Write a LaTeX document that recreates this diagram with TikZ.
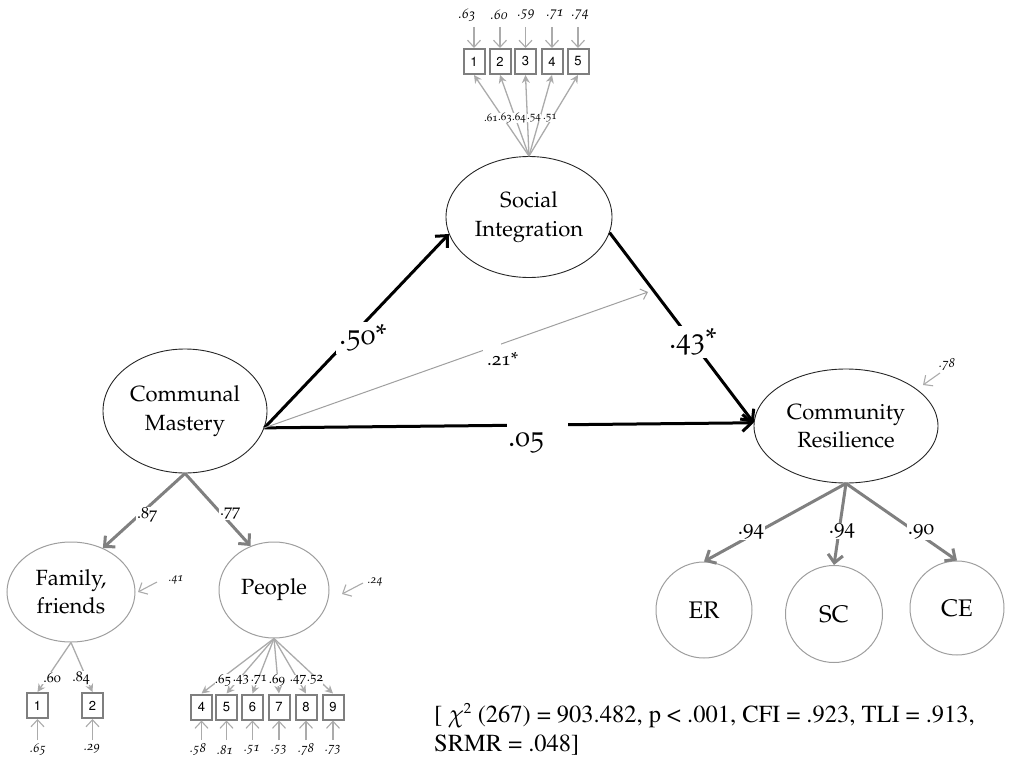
\documentclass[tikz,border=0pt]{standalone}
\usepackage[T1]{fontenc}
\usepackage[osf]{mathpazo}
\usetikzlibrary{arrows.meta,shapes.geometric}

\definecolor{ldg}{HTML}{808080}
\definecolor{lgr}{HTML}{ABABAB}
\definecolor{bxg}{HTML}{7F7F7F}
\definecolor{elg}{HTML}{9E9E9E}

\begin{document}
\begin{tikzpicture}[x=1pt,y=-1pt,
  every node/.style={inner sep=0pt},
  latB/.style={ellipse, draw=black!85, line width=0.9pt, align=center,
    font=\fontsize{22}{28.5}\selectfont},
  latG/.style={ellipse, draw=elg, line width=1pt, align=center,
    font=\fontsize{22}{28.5}\selectfont},
  ind/.style={rectangle, draw=bxg, line width=2pt, fill=white,
    minimum width=21pt, minimum height=25pt,
    font=\fontfamily{phv}\fontsize{13}{15}\selectfont},
  structarr/.style={draw=black, line width=3pt,
    -{Straight Barb[length=9pt,width=17pt]}},
  loadarr/.style={draw=ldg, line width=3pt,
    -{Straight Barb[length=8pt,width=15pt]}},
  indarr/.style={draw=lgr, line width=1.3pt,
    -{Stealth[length=8pt,width=8pt]}},
  errarr/.style={draw=lgr, line width=1.1pt,
    -{Straight Barb[length=7pt,width=13pt]}},
  biglab/.style={fill=white, inner sep=3pt, font=\fontsize{29}{30}\selectfont},
  gaplab/.style={fill=white, inner sep=0pt},
  loadlab/.style={fill=white, inner sep=1pt, font=\fontsize{#1}{#1}\selectfont},
  smalllab/.style={fill=white, inner sep=0.3pt, font=\fontsize{11}{12}\selectfont},
  errlab/.style={font=\itshape\fontsize{#1}{#1}\selectfont},
]
\useasboundingbox (0,0) rectangle (1026,760);

% latent variables
\node[latB, minimum width=166pt, minimum height=121pt] (si) at (529,217) {\rule{0pt}{6pt}Social\\Integration};
\node[latB, minimum width=164pt, minimum height=124pt] (cm) at (185,411) {Communal\\Mastery};
\node[latB, minimum width=184pt, minimum height=114pt] (cr) at (846,426) {Community\\Resilience};
\node[latG, minimum width=128pt, minimum height=100pt] (fam) at (71,592) {Family,\\friends};
\node[latG, minimum width=110pt, minimum height=96pt] (peo) at (274,590) {People};
\node[latG, minimum width=96pt, minimum height=96pt, font=\fontsize{24}{26}\selectfont] (er) at (704,610) {ER};
\node[latG, minimum width=97pt, minimum height=97pt, font=\fontsize{24}{26}\selectfont] (sc) at (834,614) {SC};
\node[latG, minimum width=94pt, minimum height=94pt, font=\fontsize{24}{26}\selectfont] (ce) at (957,608) {CE};

% indicators
\foreach \n/\x in {1/474,2/500,3/525.5,4/552,5/578}
  \node[ind] (s\n) at (\x,61.5) {\n};
\node[ind] (f1) at (37.5,705.5) {1};
\node[ind] (f2) at (92.5,705.5) {2};
\foreach \n/\x in {4/201.5,5/226.5,6/252.5,7/279,8/306,9/333}
  \node[ind] (p\n) at (\x,707) {\n};

% structural paths
\coordinate (t21) at (648,292);
\draw[structarr] (cm.-12) -- (si.192);
\draw[structarr] (si.-11) -- (cr.178);
\draw[structarr] (cm.-12) -- (cr.178);
\draw[draw=gray!75, line width=1pt, -{Straight Barb[length=6pt,width=11pt]}] (cm.-12) -- (t21);

\node[biglab] (l50) at (363,338) {.50*};
\node[biglab] (l43) at (693,342) {.43*};
% these two labels sit below their lines, which are broken just above them
\node[gaplab, minimum width=61pt, minimum height=12pt] (l05) at (537.5,426)
  {\makebox[0pt][l]{\hspace{-29.5pt}\raisebox{-20pt}[0pt][0pt]{\fontsize{29}{30}\selectfont .05}}};
\node[gaplab, minimum width=18pt, minimum height=9pt] (l21) at (491.5,347.5)
  {\makebox[0pt][l]{\hspace{-4.5pt}\raisebox{-18pt}[0pt][0pt]{\fontsize{19}{20}\selectfont .21*}}};

% second-order loadings
\draw[loadarr] (cm.south) -- (fam.54);
\draw[loadarr] (cm.south) -- (peo.118);
\draw[loadarr] (cr.south) -- (er.north);
\draw[loadarr] (cr.south) -- (sc.north);
\draw[loadarr] (cr.south) -- (ce.north);
\node[loadlab=16] (l87) at (147,515) {.87};
\node[loadlab=16] (l77) at (230,513) {.77};
\node[loadlab=21] (lER) at (751,532) {.94};
\node[loadlab=21] (lSC) at (842,531) {.94};
\node[loadlab=21] (lCE) at (921,532) {.90};

% indicator loadings
\foreach \n in {1,...,5} \draw[indarr] (si.north) -- (s\n.south);
\foreach \n in {1,2} \draw[indarr] (fam.south) -- (f\n.north);
\foreach \n in {4,...,9} \draw[indarr] (peo.south) -- (p\n.north);

\foreach \v/\x [count=\i] in {.61/491,.63/505,.64/519,.54/534,.51/550}
  \node[smalllab] (ls\i) at (\x,118) {\v};
\node[loadlab=14] (lf1) at (52,678) {.60};
\node[loadlab=14] (lf2) at (81,678) {.84};
\foreach \v/\x [count=\i] in {.65/223,.43/241,.71/259,.69/277,.47/298,.52/315}
  \node[loadlab=13, inner sep=0.3pt] (lp\i) at (\x,680) {\v};

% error terms of the indicators
\foreach \n/\x in {1/474,2/500,3/525.5,4/552,5/578}{
  \coordinate (es\n) at (\x,27);
  \draw[errarr] (es\n) -- (s\n.north);
}
\foreach \v/\x [count=\i] in {.63/467,.60/499,.59/526,.71/555,.74/580}
  \node[errlab=14] (vs\i) at (\x,15) {\v};

\foreach \n/\x in {1/37.5,2/92.5}{
  \coordinate (ef\n) at (\x,740);
  \draw[errarr] (ef\n) -- (f\n.south);
}
\node[errlab=13] (vf1) at (38,749) {.65};
\node[errlab=13] (vf2) at (92,749) {.29};

\foreach \n/\x in {4/201.5,5/226.5,6/252.5,7/279,8/306,9/333}{
  \coordinate (ep\n) at (\x,740);
  \draw[errarr] (ep\n) -- (p\n.south);
}
\foreach \v/\x [count=\i] in {.58/198,.81/225,.51/252,.53/279,.78/306,.73/333}
  \node[errlab=13] (vp\i) at (\x,750) {\v};

% disturbances of the latent variables
\coordinate (dfa) at (157,582); \coordinate (dfb) at (138,592);
\coordinate (dpa) at (363,583); \coordinate (dpb) at (342,594);
\coordinate (dca) at (940,373); \coordinate (dcb) at (923,385);
\draw[errarr] (dfa) -- (dfb);
\draw[errarr] (dpa) -- (dpb);
\draw[errarr] (dca) -- (dcb);
\node[errlab=12] (vfam) at (176,580) {.41};
\node[errlab=12] (vpeo) at (375,582) {.24};
\node[errlab=13] (vcr) at (947,365) {.78};

% model fit
\node[anchor=north west, align=left, font=\fontfamily{ptm}\fontsize{24.5}{29}\selectfont]
  (fit) at (434,703) {[ $\chi^{\scriptscriptstyle 2}$ (267) = 903.482, p < .001, CFI = .923, TLI = .913,\\SRMR = .048]};
\end{tikzpicture}
\end{document}
